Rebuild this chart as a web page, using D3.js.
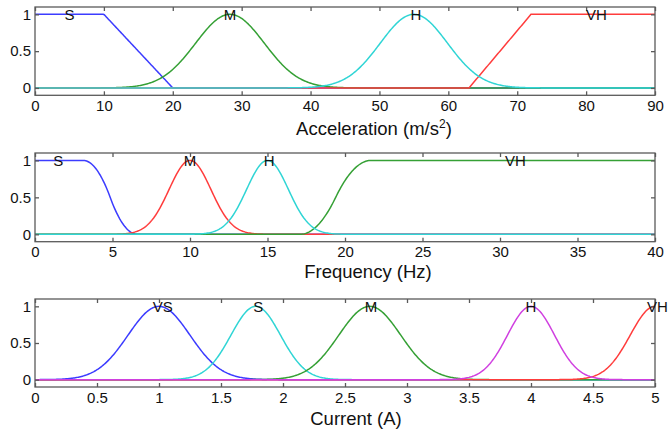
<!DOCTYPE html>
<html>
<head>
<meta charset="utf-8">
<script src="https://cdn.jsdelivr.net/npm/d3@7/dist/d3.min.js"></script>
<style>
  body { margin: 0; background: #fff; }
  svg { display: block; }
  text { font-family: "Liberation Sans", Arial, Helvetica, sans-serif; fill: #111; }
</style>
</head>
<body>
<div id="chart"></div>
<script>
// ---- data (membership function parameters) ----
const accelTicks = [0, 10, 20, 30, 40, 50, 60, 70, 80, 90]
const accelNames = ["S", "M", "H", "VH"]
const accelShapes = ["trapmf", "gaussmf", "gaussmf", "trapmf"]
const accelParams = [[0, 0, 10, 20], [5, 28.3], [4.9, 55], [63, 72, 90, 90]]
const accelLabelX = [5, 28.3, 55.3, 81.5]

const freqTicks = [0, 5, 10, 15, 20, 25, 30, 35, 40]
const freqNames = ["S", "M", "H", "VH"]
const freqShapes = ["zmf", "gaussmf", "gaussmf", "smf"]
const freqParams = [[3.1, 6.6], [1.35, 10], [1.35, 15], [17.1, 21.7]]
const freqLabelX = [1.5, 10, 15.1, 31]

const currentTicks = [0, 0.5, 1, 1.5, 2, 2.5, 3, 3.5, 4, 4.5, 5]
const currentNames = ["VS", "S", "M", "H", "VH"]
const currentShapes = ["gaussmf", "gaussmf", "gaussmf", "gaussmf", "gaussmf"]
const currentParams = [[0.25, 1], [0.2, 1.78], [0.25, 2.7], [0.19, 4], [0.2, 5]]
const currentLabelX = [1.03, 1.8, 2.71, 4, 5.02]

const yTicks = [0, 0.5, 1]

// ---- layout / style ----
const W = 668, H = 434
const LEFT = 35, RIGHT = 655
const SAMPLES = 600

const panels = [
  { top: 7, bottom: 95.3, title: "Acceleration (m/s", sup: "2", titleX: 374, titleY: 135,
    ticks: accelTicks, names: accelNames, shapes: accelShapes, params: accelParams, labelX: accelLabelX,
    colors: ["#3c3cff", "#35a035", "#30d5d5", "#ff3c3c"], order: [0, 1, 3, 2] },
  { top: 153, bottom: 241.7, title: "Frequency (Hz)", titleX: 368, titleY: 278,
    ticks: freqTicks, names: freqNames, shapes: freqShapes, params: freqParams, labelX: freqLabelX,
    colors: ["#3c3cff", "#ff3c3c", "#30d5d5", "#35a035"], order: [0, 1, 3, 2] },
  { top: 299, bottom: 387, title: "Current (A)", titleX: 356, titleY: 425,
    ticks: currentTicks, names: currentNames, shapes: currentShapes, params: currentParams, labelX: currentLabelX,
    colors: ["#3c3cff", "#30d5d5", "#35a035", "#d040e0", "#ff3c3c"], order: [0, 1, 2, 4, 3] }
]

// membership functions
const mf = {
  trapmf: (x, [a, b, c, d]) => {
    const up = b === a ? (x >= a ? 1 : 0) : (x - a) / (b - a)
    const down = d === c ? (x <= d ? 1 : 0) : (d - x) / (d - c)
    return Math.max(0, Math.min(up, 1, down))
  },
  gaussmf: (x, [s, c]) => Math.exp(-((x - c) ** 2) / (2 * s * s)),
  zmf: (x, [a, b]) => {
    if (x <= a) return 1
    if (x <= (a + b) / 2) return 1 - 2 * ((x - a) / (b - a)) ** 2
    if (x <= b) return 2 * ((x - b) / (b - a)) ** 2
    return 0
  },
  smf: (x, p) => 1 - mf.zmf(x, p)
}

const svg = d3.select("#chart").append("svg")
  .attr("width", W)
  .attr("height", H)

panels.forEach(p => {
  const xDomain = d3.extent(p.ticks)
  const x = d3.scaleLinear().domain(xDomain).range([LEFT, RIGHT])
  const y = d3.scaleLinear().domain([-0.1, 1.1]).range([p.bottom, p.top])

  const g = svg.append("g")

  // curves
  const line = d3.line().x(d => x(d[0])).y(d => y(d[1]))
  p.order.forEach(i => {
    const pts = d3.range(SAMPLES + 1).map(k => {
      const xv = xDomain[0] + (xDomain[1] - xDomain[0]) * k / SAMPLES
      return [xv, mf[p.shapes[i]](xv, p.params[i])]
    })
    g.append("path")
     .attr("d", line(pts))
     .attr("fill", "none")
     .attr("stroke", p.colors[i])
     .attr("stroke-width", 1.5)
  })

  // frame
  g.append("rect")
   .attr("x", LEFT)
   .attr("y", p.top)
   .attr("width", RIGHT - LEFT)
   .attr("height", p.bottom - p.top)
   .attr("fill", "none")
   .attr("stroke", "#5a5a5a")
   .attr("stroke-width", 1.3)

  // axes with inward ticks
  const bottom = g.append("g")
    .attr("transform", `translate(0,${p.bottom})`)
    .call(d3.axisBottom(x).tickValues(p.ticks).tickSize(-4).tickPadding(5).tickFormat(d3.format("")))
  const top = g.append("g")
    .attr("transform", `translate(0,${p.top})`)
    .call(d3.axisTop(x).tickValues(p.ticks).tickSize(-4).tickFormat(""))
  const left = g.append("g")
    .attr("transform", `translate(${LEFT},0)`)
    .call(d3.axisLeft(y).tickValues(yTicks).tickSize(-4).tickPadding(4).tickFormat(d3.format("")))
  const right = g.append("g")
    .attr("transform", `translate(${RIGHT},0)`)
    .call(d3.axisRight(y).tickValues(yTicks).tickSize(-4).tickFormat(""))

  ;[bottom, top, left, right].forEach(a => {
    a.select(".domain").remove()
    a.selectAll(".tick line").attr("stroke", "#5a5a5a").attr("stroke-width", 1.3)
    a.selectAll(".tick text")
     .attr("fill", "#111")
     .style("font-family", "\"Liberation Sans\", Arial, sans-serif")
     .style("font-size", "15px")
  })

  // set labels at the top of each function
  p.names.forEach((n, i) => {
    g.append("text")
     .attr("x", x(p.labelX[i]))
     .attr("y", y(1) + 5.5)
     .attr("text-anchor", "middle")
     .style("font-size", "15px")
     .text(n)
  })

  // axis title
  const t = g.append("text")
    .attr("x", p.titleX)
    .attr("y", p.titleY)
    .attr("text-anchor", "middle")
    .style("font-size", "18.5px")
    .text(p.title)
  if (p.sup) {
    t.append("tspan").attr("dy", -7).style("font-size", "12px").text(p.sup)
    t.append("tspan").attr("dy", 7).text(")")
  }
})
</script>
</body>
</html>
